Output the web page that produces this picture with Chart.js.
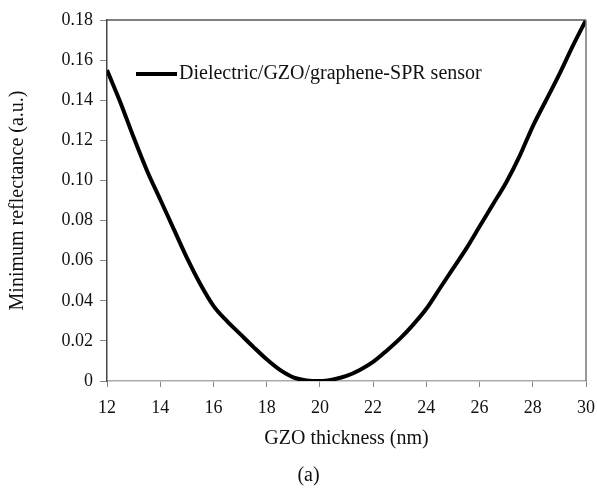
<!DOCTYPE html>
<html>
<head>
<meta charset="utf-8">
<script src="https://cdn.jsdelivr.net/npm/chart.js@4/dist/chart.umd.min.js"></script>
<style>
  html, body { margin: 0; padding: 0; background: #fff; }
  #wrap { width: 597px; height: 496px; position: relative; }
</style>
</head>
<body>
<div id="wrap"><canvas id="c" width="597" height="496"></canvas></div>
<script>
// ---- data ----
const thickness = [12, 12.5, 13, 13.5, 14, 14.5, 15, 15.5, 16, 16.5, 17, 17.5, 18, 18.5, 19, 19.5, 20,
                   20.5, 21, 21.5, 22, 22.5, 23, 23.5, 24, 24.5, 25, 25.5, 26, 26.5, 27, 27.5, 28, 28.5, 29, 29.5, 30];
const reflectance = [0.155, 0.139, 0.1215, 0.105, 0.0905, 0.076, 0.0615, 0.0485, 0.0375, 0.030, 0.0235, 0.017, 0.0108, 0.0055, 0.0018, 0.0003, 0.0,
                     0.0008, 0.0025, 0.0055, 0.0095, 0.015, 0.021, 0.028, 0.036, 0.046, 0.056, 0.066, 0.077, 0.088, 0.099, 0.112, 0.127, 0.140, 0.153, 0.167, 0.18];
const seriesLabel = 'Dielectric/GZO/graphene-SPR sensor';
const xTicks = [12, 14, 16, 18, 20, 22, 24, 26, 28, 30];
const yTicks = [0, 0.02, 0.04, 0.06, 0.08, 0.10, 0.12, 0.14, 0.16, 0.18];
const xTitle = 'GZO thickness (nm)';
const yTitle = 'Minimum reflectance (a.u.)';
const caption = '(a)';

const SERIF = "'Liberation Serif', 'Times New Roman', serif";
const TXT = '#111';

const framePlugin = {
  id: 'frame',
  afterDatasetsDraw(chart) {
    const {ctx, chartArea: a} = chart;
    ctx.save();
    ctx.lineWidth = 1.5;
    ctx.strokeStyle = '#555';
    ctx.beginPath();
    ctx.moveTo(a.left, a.top);
    ctx.lineTo(a.right, a.top);
    ctx.stroke();
    ctx.strokeStyle = '#777';
    ctx.beginPath();
    ctx.moveTo(a.right, a.top);
    ctx.lineTo(a.right, a.bottom);
    ctx.stroke();
    ctx.restore();
  }
};

const innerLegend = {
  id: 'innerLegend',
  afterDraw(chart) {
    const {ctx, chartArea: a} = chart;
    const ds = chart.data.datasets[0];
    const x0 = a.left + 29, y0 = a.top + 54;
    ctx.save();
    ctx.strokeStyle = ds.borderColor;
    ctx.lineWidth = 4;
    ctx.beginPath();
    ctx.moveTo(x0, y0);
    ctx.lineTo(x0 + 41, y0);
    ctx.stroke();
    ctx.fillStyle = TXT;
    ctx.font = "20px " + SERIF;
    ctx.textBaseline = 'middle';
    ctx.fillText(ds.label, x0 + 43, y0);
    ctx.restore();
  }
};

const captionPlugin = {
  id: 'caption',
  afterDraw(chart) {
    const {ctx} = chart;
    ctx.save();
    ctx.fillStyle = TXT;
    ctx.font = "20px " + SERIF;
    ctx.textAlign = 'center';
    ctx.textBaseline = 'middle';
    ctx.fillText(caption, chart.width / 2 + 10, 476);
    ctx.restore();
  }
};

new Chart(document.getElementById('c'), {
  type: 'line',
  data: {
    datasets: [{
      label: seriesLabel,
      data: thickness.map((t, i) => ({x: t, y: reflectance[i]})),
      borderColor: '#000',
      borderWidth: 4,
      pointRadius: 0,
      cubicInterpolationMode: 'monotone',
      fill: false
    }]
  },
  options: {
    responsive: false,
    animation: false,
    devicePixelRatio: 1,
    layout: { padding: { top: 20, right: 11, left: 0, bottom: 0 } },
    plugins: {
      legend: { display: false },
      tooltip: { enabled: false },
      title: { display: false }
    },
    scales: {
      x: {
        type: 'linear',
        min: 12, max: 30,
        afterBuildTicks(scale) { scale.ticks = xTicks.map(v => ({value: v})); },
        afterFit(scale) { scale.height = 115; scale.paddingLeft = 0; scale.paddingRight = 0; },
        border: { display: true, color: '#aaa', width: 1.5 },
        grid: { drawOnChartArea: false, drawTicks: true, tickLength: 6, color: '#888' },
        ticks: {
          color: TXT, padding: 10, maxRotation: 0,
          font: { family: SERIF, size: 18 },
          callback: v => String(v)
        },
        title: {
          display: true, text: xTitle, color: TXT,
          font: { family: SERIF, size: 20 },
          padding: { top: 0, bottom: 45 }
        }
      },
      y: {
        type: 'linear',
        min: 0, max: 0.18,
        afterBuildTicks(scale) { scale.ticks = yTicks.map(v => ({value: v})); },
        afterFit(scale) { scale.width = 107; },
        border: { display: true, color: '#444', width: 1.5 },
        grid: { drawOnChartArea: false, drawTicks: true, tickLength: 7, color: '#888' },
        ticks: {
          color: TXT, padding: 7,
          font: { family: SERIF, size: 18 },
          callback: v => (v === 0 ? '0' : v.toFixed(2))
        },
        title: {
          display: true, text: yTitle, color: TXT,
          font: { family: SERIF, size: 20 },
          padding: { top: 6, bottom: 0 }
        }
      }
    }
  },
  plugins: [framePlugin, innerLegend, captionPlugin]
});
</script>
</body>
</html>
